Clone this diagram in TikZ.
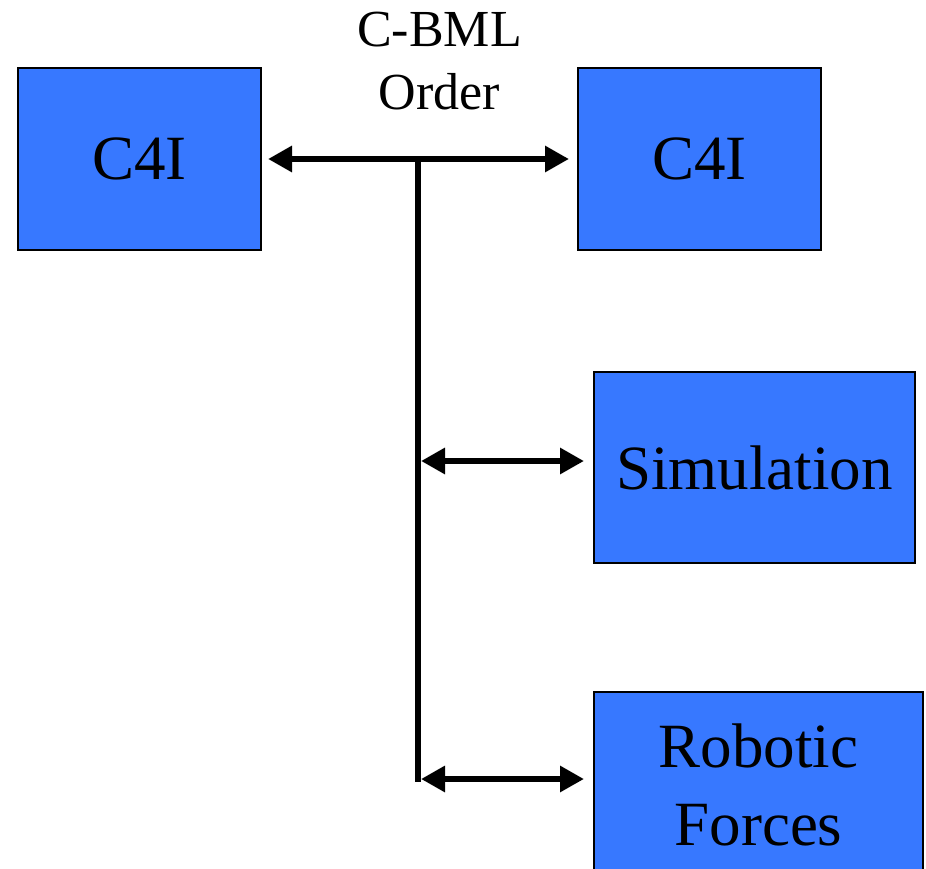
\documentclass[tikz,border=0pt]{standalone}
\usepackage{fontspec}
\setmainfont{Liberation Serif}
\usetikzlibrary{arrows.meta}
\definecolor{boxblue}{RGB}{55,120,255}
\tikzset{
  unit/.style={draw=black, line width=2pt, fill=boxblue, inner sep=0pt,
    font=\fontsize{63}{78}\selectfont, align=center},
  link/.style={line width=6.5pt, <->},
}
\begin{document}
\begin{tikzpicture}[x=1pt, y=-1pt, line join=miter, >={Triangle[length=24pt,width=25pt]}]
	\clip (0,0) rectangle (926,869);
	\node[unit, minimum width=243pt, minimum height=182pt] (c4il) at (139.5,159) {C4I};
	\node[unit, minimum width=243pt, minimum height=182pt] (c4ir) at (699.5,159) {C4I};
	\node[unit, minimum width=321pt, minimum height=191pt] (sim) at (754.5,467.5) {Simulation};
	\node[unit, minimum width=329pt, minimum height=186pt] (robot) at (758.5,785) {Robotic\\Forces};
	\node[font=\fontsize{52}{63}\selectfont, align=center] (cbml) at (439.5,61) {C-BML\\Order};
	
	\path
	(418,158) coordinate (tee)
	(418,782) coordinate (busend)
	(421,461) coordinate (s1)
	(421,779) coordinate (r1)
	;
	\draw[link, shorten <=6pt, shorten >=8pt] (c4il.east) -- (c4ir.west);
	\draw[line width=6.5pt] (tee) -- (busend);
	\draw[link, shorten >=9pt] (s1) -- (s1 -| sim.west);
	\draw[link, shorten >=9pt] (r1) -- (r1 -| robot.west);
\end{tikzpicture}
\end{document}
